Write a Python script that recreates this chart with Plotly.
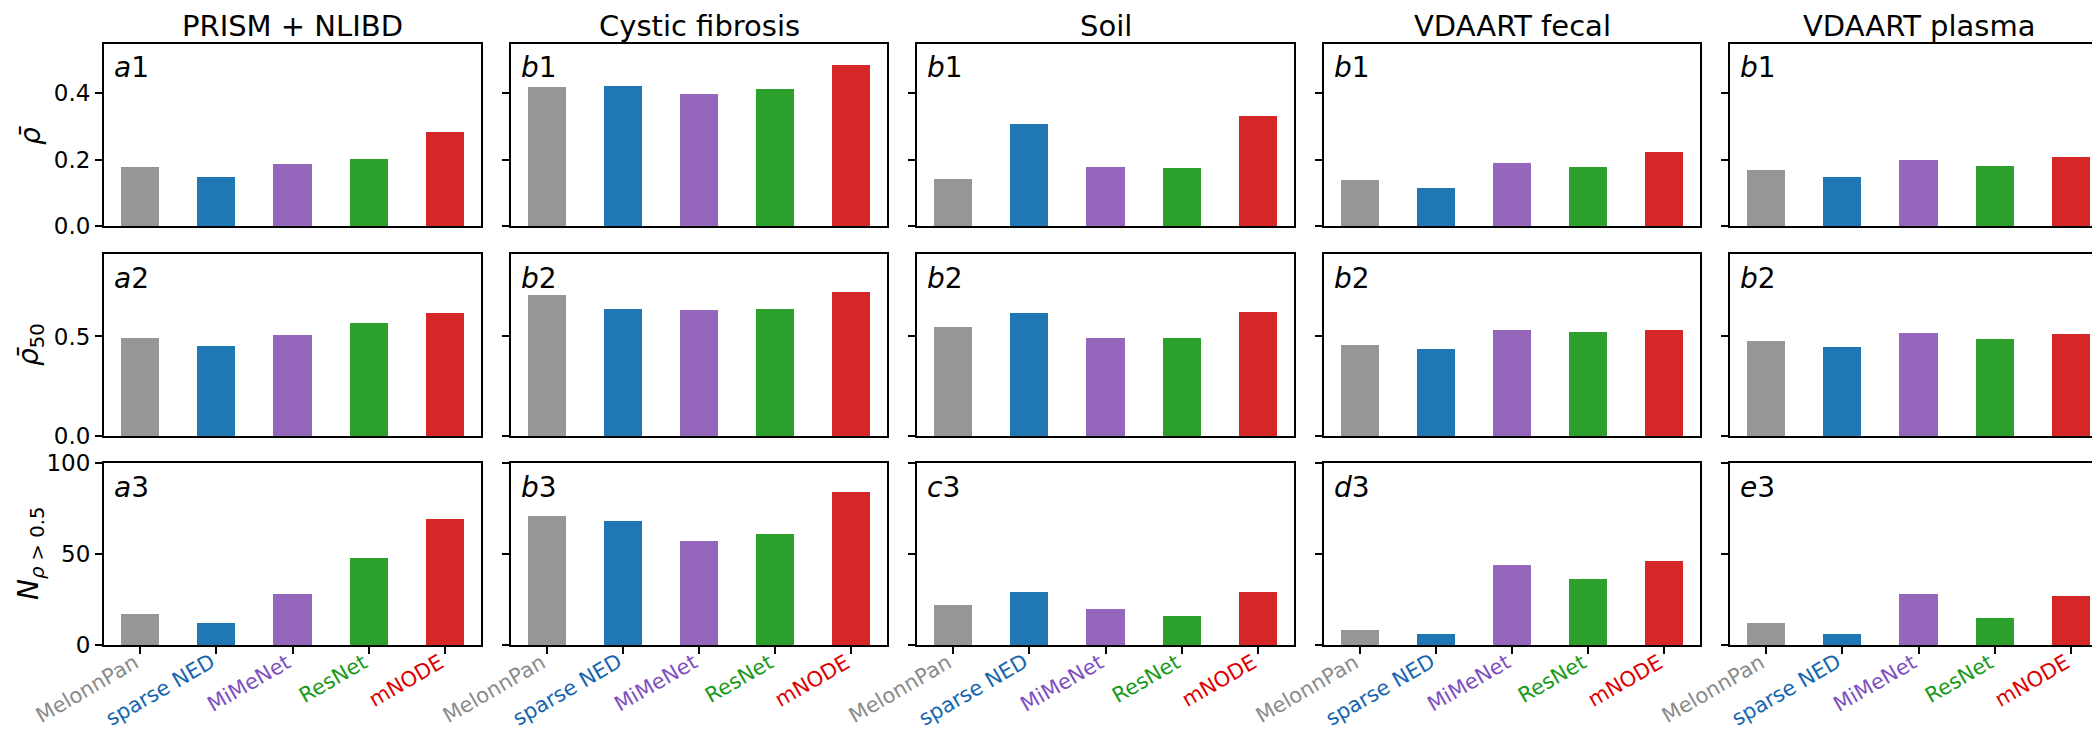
import plotly.graph_objects as go
import math

# ---------------- data ----------------
methods = ["MelonnPan", "sparse NED", "MiMeNet", "ResNet", "mNODE"]
datasets = ["PRISM + NLIBD", "Cystic fibrosis", "Soil", "VDAART fecal", "VDAART plasma"]

# mean Spearman rho (row 1)
rho_prism = [0.179, 0.148, 0.188, 0.203, 0.284]
rho_cf = [0.419, 0.421, 0.399, 0.412, 0.487]
rho_soil = [0.141, 0.307, 0.177, 0.175, 0.333]
rho_fecal = [0.139, 0.115, 0.190, 0.177, 0.222]
rho_plasma = [0.169, 0.147, 0.198, 0.181, 0.209]

# mean rho of top 50 (row 2)
rho50_prism = [0.494, 0.450, 0.508, 0.565, 0.617]
rho50_cf = [0.710, 0.640, 0.633, 0.640, 0.722]
rho50_soil = [0.547, 0.618, 0.491, 0.491, 0.623]
rho50_fecal = [0.458, 0.436, 0.531, 0.523, 0.533]
rho50_plasma = [0.477, 0.445, 0.515, 0.487, 0.513]

# number of metabolites with rho > 0.5 (row 3)
n_prism = [17, 12, 28, 48, 69]
n_cf = [71, 68, 57, 61, 84]
n_soil = [22, 29, 20, 16, 29]
n_fecal = [8, 6, 44, 36, 46]
n_plasma = [12, 6, 28, 15, 27]

panel_labels = [["a", "1"], ["b", "1"], ["b", "1"], ["b", "1"], ["b", "1"],
                ["a", "2"], ["b", "2"], ["b", "2"], ["b", "2"], ["b", "2"],
                ["a", "3"], ["b", "3"], ["c", "3"], ["d", "3"], ["e", "3"]]

row_tickvals = [[0.0, 0.2, 0.4], [0.0, 0.5], [0, 50, 100]]
row_ticktext = [["0.0", "0.2", "0.4"], ["0.0", "0.5"], ["0", "50", "100"]]

# ---------------- style ----------------
bar_colors = ["#969696", "#1f77b4", "#9467bd", "#2ca02c", "#d62728"]
label_colors = ["#8a8a8a", "#1565b0", "#7e4fbf", "#1a9a1a", "#dd0000"]
FONT = "DejaVu Sans"
W, H = 2100, 732
LABEL_SIZE = 21
ANGLE = 30

# approximate DejaVu Sans advance widths (em) for the label characters
char_w = {"M": 0.863, "e": 0.615, "l": 0.278, "o": 0.612, "n": 0.634, "P": 0.603,
          "a": 0.613, "s": 0.521, "p": 0.635, "r": 0.411, " ": 0.318, "N": 0.748,
          "E": 0.632, "D": 0.770, "i": 0.278, "t": 0.392, "R": 0.695, "O": 0.787,
          "m": 0.974}

rows_data = [
    [rho_prism, rho_cf, rho_soil, rho_fecal, rho_plasma],
    [rho50_prism, rho50_cf, rho50_soil, rho50_fecal, rho50_plasma],
    [n_prism, n_cf, n_soil, n_fecal, n_plasma],
]
row_ranges = [[0, 0.549], [0, 0.914], [0, 100]]

col_px = [(96, 473), (503, 879), (909, 1286), (1316, 1692), (1722, 2099)]
row_px = [(36, 218), (246, 428), (455, 637)]

fig = go.Figure()
layout = {}
annotations = []

xpos = list(range(len(methods)))
XR = [-0.475, 4.475]

for r in range(3):
    for c in range(5):
        idx = r * 5 + c + 1
        xa = "x" if idx == 1 else f"x{idx}"
        ya = "y" if idx == 1 else f"y{idx}"
        xkey = "xaxis" if idx == 1 else f"xaxis{idx}"
        ykey = "yaxis" if idx == 1 else f"yaxis{idx}"
        fig.add_trace(go.Bar(
            x=xpos, y=rows_data[r][c], width=0.5,
            marker=dict(color=bar_colors, line=dict(width=0)),
            xaxis=xa, yaxis=ya, showlegend=False, hoverinfo="skip",
        ))
        x0, x1 = col_px[c]
        y0, y1 = row_px[r]
        layout[xkey] = dict(
            domain=[x0 / W, x1 / W], anchor=ya, range=XR,
            automargin=False,
            showline=True, mirror=True, linecolor="black", linewidth=2,
            showgrid=False, zeroline=False,
            tickmode="array", tickvals=xpos,
            showticklabels=False,
            ticks="outside" if r == 2 else "", ticklen=7, tickwidth=1.5, tickcolor="black",
        )
        layout[ykey] = dict(
            domain=[1 - y1 / H, 1 - y0 / H], anchor=xa, range=row_ranges[r],
            automargin=False,
            showline=True, mirror=True, linecolor="black", linewidth=2,
            showgrid=False, zeroline=False,
            tickmode="array", tickvals=row_tickvals[r], ticktext=row_ticktext[r],
            showticklabels=(c == 0),
            ticks="outside", ticklen=7, tickwidth=1.5, tickcolor="black",
            tickfont=dict(family=FONT, size=23, color="black"),
        )
        lab = panel_labels[idx - 1]
        annotations.append(dict(
            text=f"<i>{lab[0]}</i>{lab[1]}", xref="paper", yref="paper",
            x=(x0 + 8) / W, y=1 - (y0 + 24) / H, xanchor="left", yanchor="middle",
            showarrow=False, font=dict(family=FONT, size=28, color="black"),
        ))
        # rotated, coloured category labels under the bottom row
        if r == 2:
            for i, (m, col) in enumerate(zip(methods, label_colors)):
                L = sum(char_w.get(ch, 0.6) for ch in m) * LABEL_SIZE
                h = LABEL_SIZE * 1.0
                a = math.radians(ANGLE)
                bw = L * math.cos(a) + h * math.sin(a)
                bh = L * math.sin(a) + h * math.cos(a)
                tick_px = x0 + (xpos[i] - XR[0]) / (XR[1] - XR[0]) * (x1 - x0)
                cx = tick_px + 2 - bw / 2
                cy = 643 + bh / 2
                annotations.append(dict(
                    text=m, xref="paper", yref="paper",
                    x=cx / W, y=1 - cy / H, xanchor="center", yanchor="middle",
                    textangle=-ANGLE, showarrow=False,
                    font=dict(family=FONT, size=LABEL_SIZE, color=col),
                ))

# column titles
for c, name in enumerate(datasets):
    x0, x1 = col_px[c]
    annotations.append(dict(
        text=name, xref="paper", yref="paper",
        x=(x0 + x1) / 2 / W, y=1 - 18 / H, xanchor="center", yanchor="middle",
        showarrow=False, font=dict(family=FONT, size=29, color="black"),
    ))

# row y-axis titles
ytitles = ["<i>ρ̄</i>", "<i>ρ̄</i><sub>50</sub>", "<i>N</i><sub><i>ρ</i> &gt; 0.5</sub>"]
for r, t in enumerate(ytitles):
    y0, y1 = row_px[r]
    annotations.append(dict(
        text=t, xref="paper", yref="paper",
        x=22 / W, y=1 - (y0 + y1) / 2 / H, xanchor="center", yanchor="middle",
        textangle=-90, showarrow=False, font=dict(family=FONT, size=28, color="black"),
    ))

fig.update_layout(
    width=W, height=H, margin=dict(l=0, r=0, t=0, b=0, autoexpand=False),
    plot_bgcolor="white", paper_bgcolor="white",
    font=dict(family=FONT, color="black"),
    annotations=annotations, bargap=0,
    **layout,
)

fig.write_html("out.html")
